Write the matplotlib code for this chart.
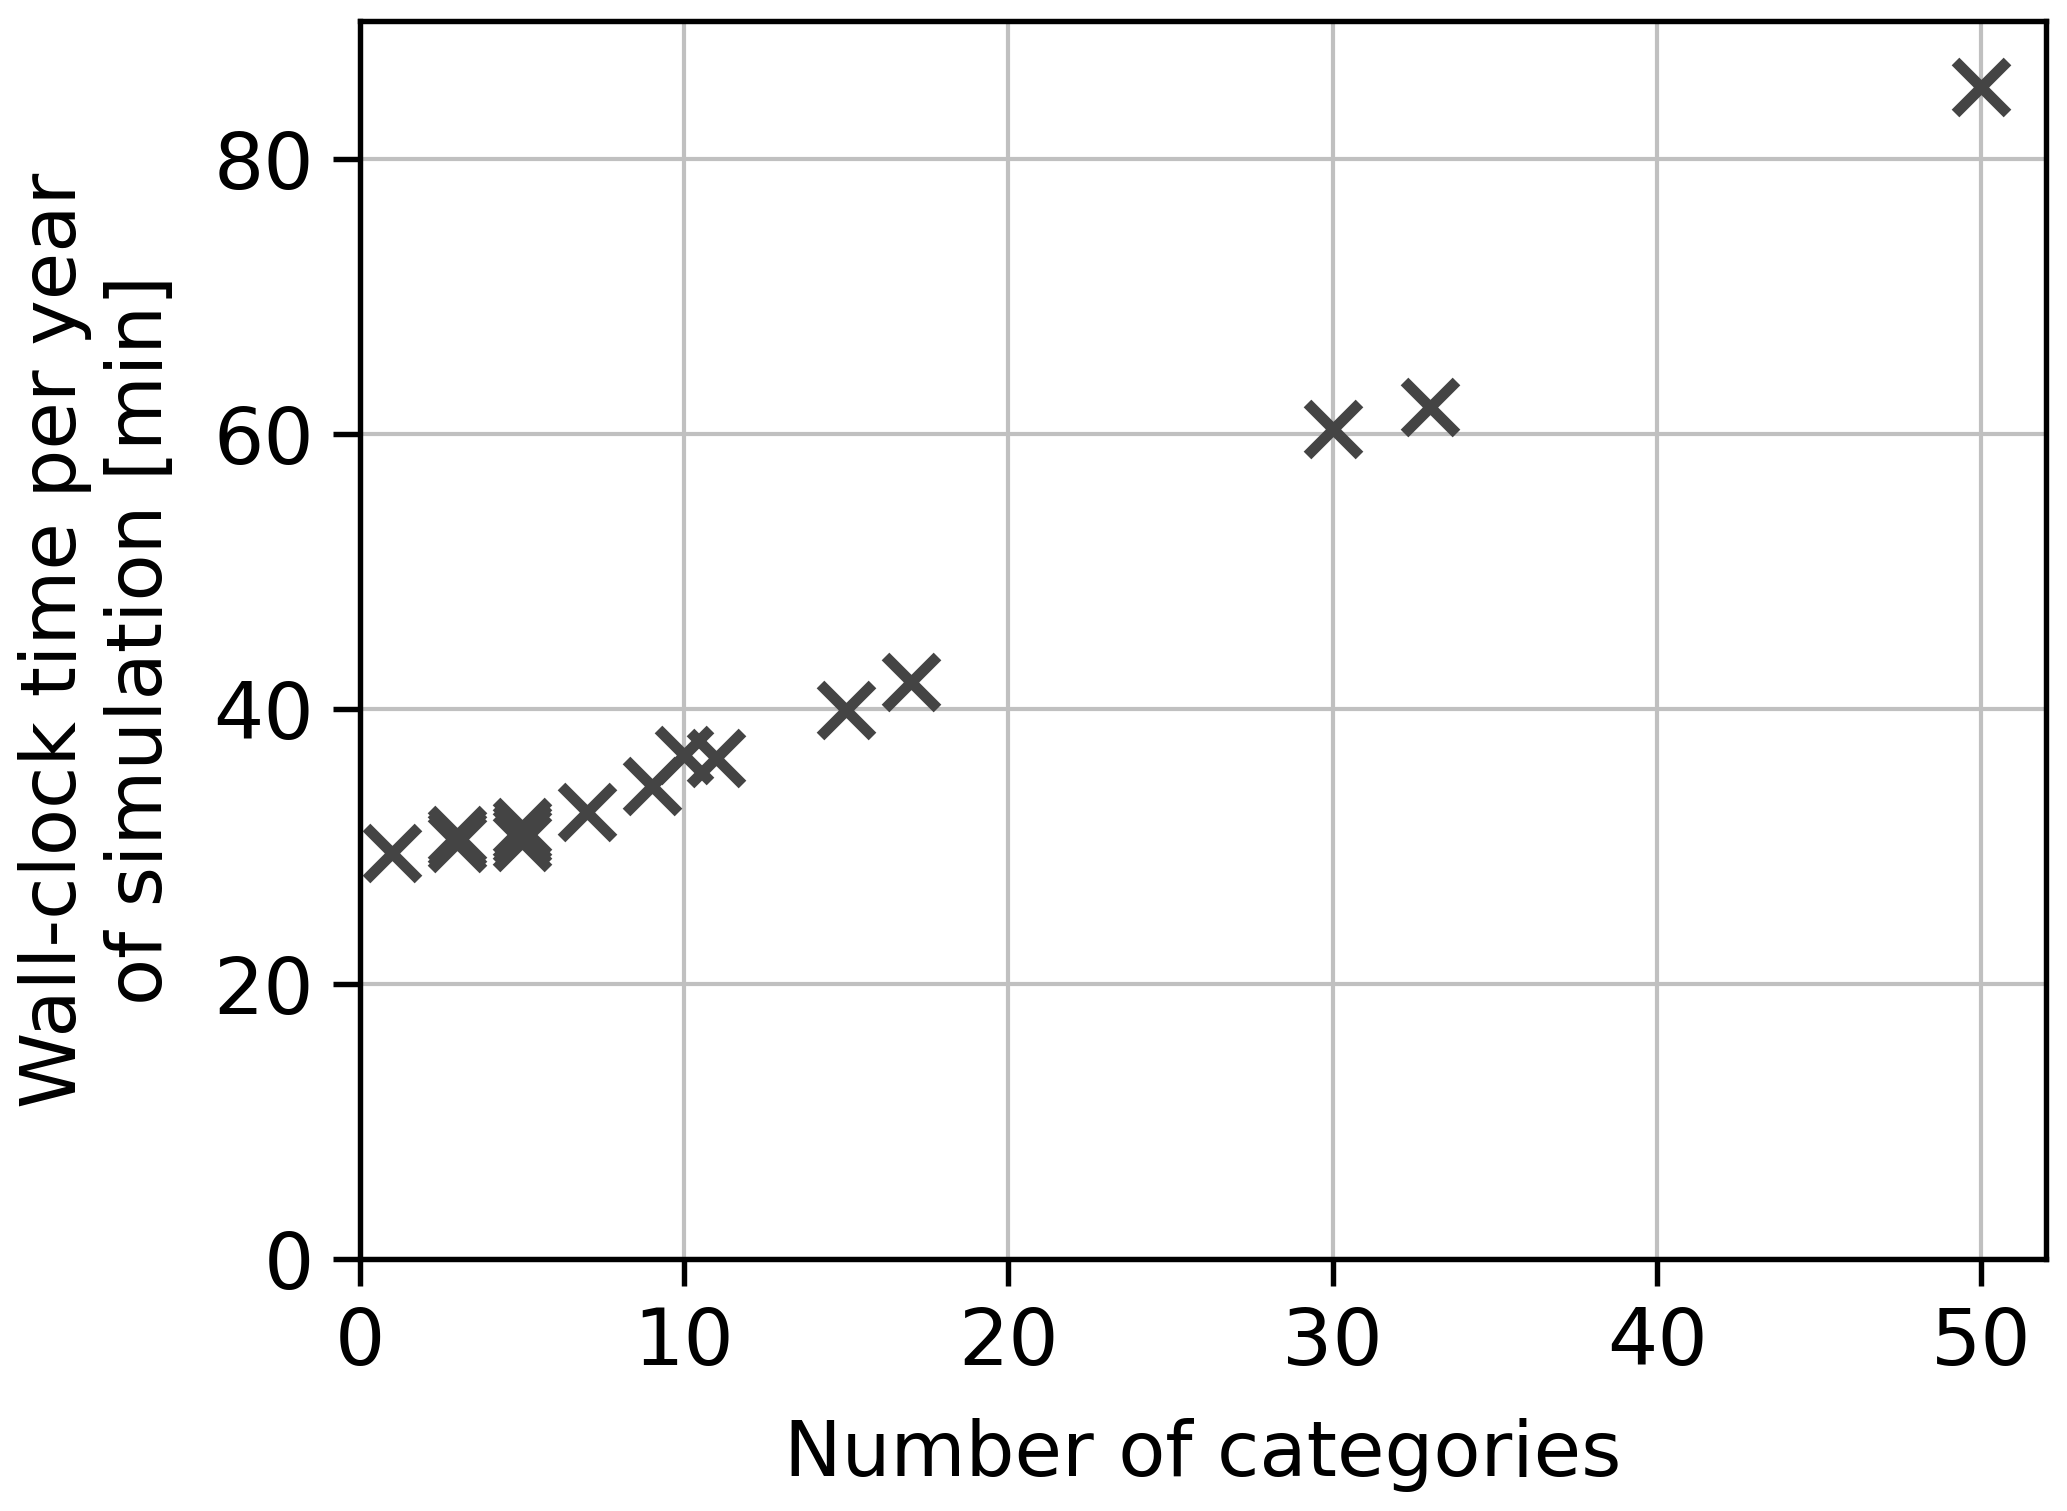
import numpy as np
import matplotlib.pyplot as plt

# number of categories vs wall-clock time per simulated year
n_categories = [1, 3, 3, 3, 5, 5, 5, 5, 7, 9, 10, 11, 15, 17, 30, 33, 50]
wall_time = [29.5, 30.2, 30.5, 30.8, 30.3, 30.7, 31.0, 31.4, 32.5, 34.4,
             36.6, 36.4, 39.9, 41.9, 60.3, 61.9, 85.2]

plt.rcParams['font.family'] = ['DejaVu Sans']
plt.rcParams['font.size'] = 18.5

fig = plt.figure(figsize=(6.89, 5.037), dpi=300)
ax = fig.add_axes([0.174, 0.167, 0.816, 0.819])

ax.plot(n_categories, wall_time, linestyle='none', marker='x',
        markersize=12.5, markeredgewidth=2.6, color='#444444', zorder=3)

ax.set_xlim(0, 52)
ax.set_ylim(0, 90)
ax.set_xticks([0, 10, 20, 30, 40, 50])
ax.set_yticks([0, 20, 40, 60, 80])
ax.grid(True, color='#c0c0c0', linewidth=1.0)
ax.set_axisbelow(True)

for s in ax.spines.values():
    s.set_linewidth(1.3)
    s.set_color('black')
ax.tick_params(width=1.3, length=6.5, labelsize=19, pad=4.5)

ax.set_xlabel('Number of categories', labelpad=9)
ax.set_ylabel('Wall-clock time per year\nof simulation [min]', labelpad=8.5)

fig.savefig('out.png', dpi=300)
